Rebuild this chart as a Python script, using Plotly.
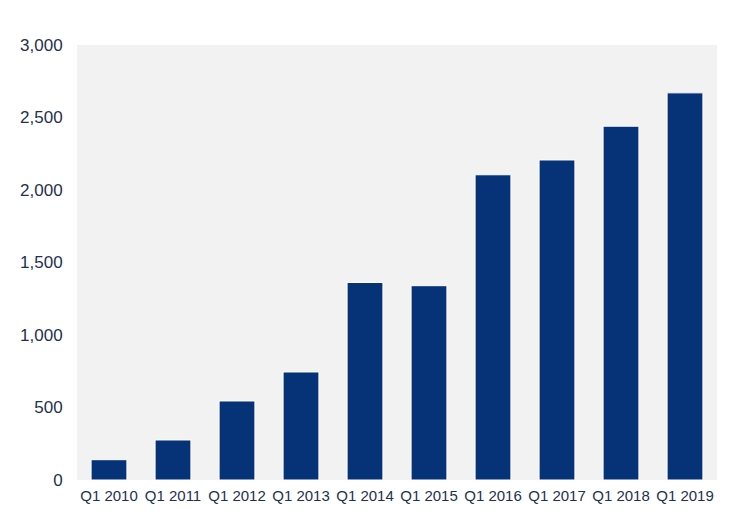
import plotly.graph_objects as go

categories = ["Q1 2010", "Q1 2011", "Q1 2012", "Q1 2013", "Q1 2014",
              "Q1 2015", "Q1 2016", "Q1 2017", "Q1 2018", "Q1 2019"]
values = [140, 276, 545, 745, 1362, 1340, 2105, 2207, 2440, 2670]
y_ticks = [0, 500, 1000, 1500, 2000, 2500, 3000]
y_tick_labels = ["0", "500", "1,000", "1,500", "2,000", "2,500", "3,000"]

fig = go.Figure(go.Bar(
    x=categories, y=values,
    marker=dict(color="#063278", line=dict(color="white", width=1)),
))

fig.update_layout(
    width=740, height=516,
    margin=dict(l=69, r=31, t=37, b=44, autoexpand=False),
    paper_bgcolor="white", plot_bgcolor="#f2f2f2",
    bargap=0.44,
    showlegend=False,
    font=dict(family="Liberation Sans, Arial, sans-serif", color="#1f3050"),
)
fig.update_xaxes(showgrid=False, tickfont=dict(size=15), ticks="outside",
                 ticklen=2, tickcolor="rgba(0,0,0,0)", automargin=False)
fig.update_yaxes(range=[0, 3000], tickvals=y_ticks, ticktext=y_tick_labels,
                 showgrid=False, zeroline=False, tickfont=dict(size=17),
                 ticks="outside", ticklen=10, tickcolor="rgba(0,0,0,0)",
                 automargin=False)

fig.write_html("out.html")
